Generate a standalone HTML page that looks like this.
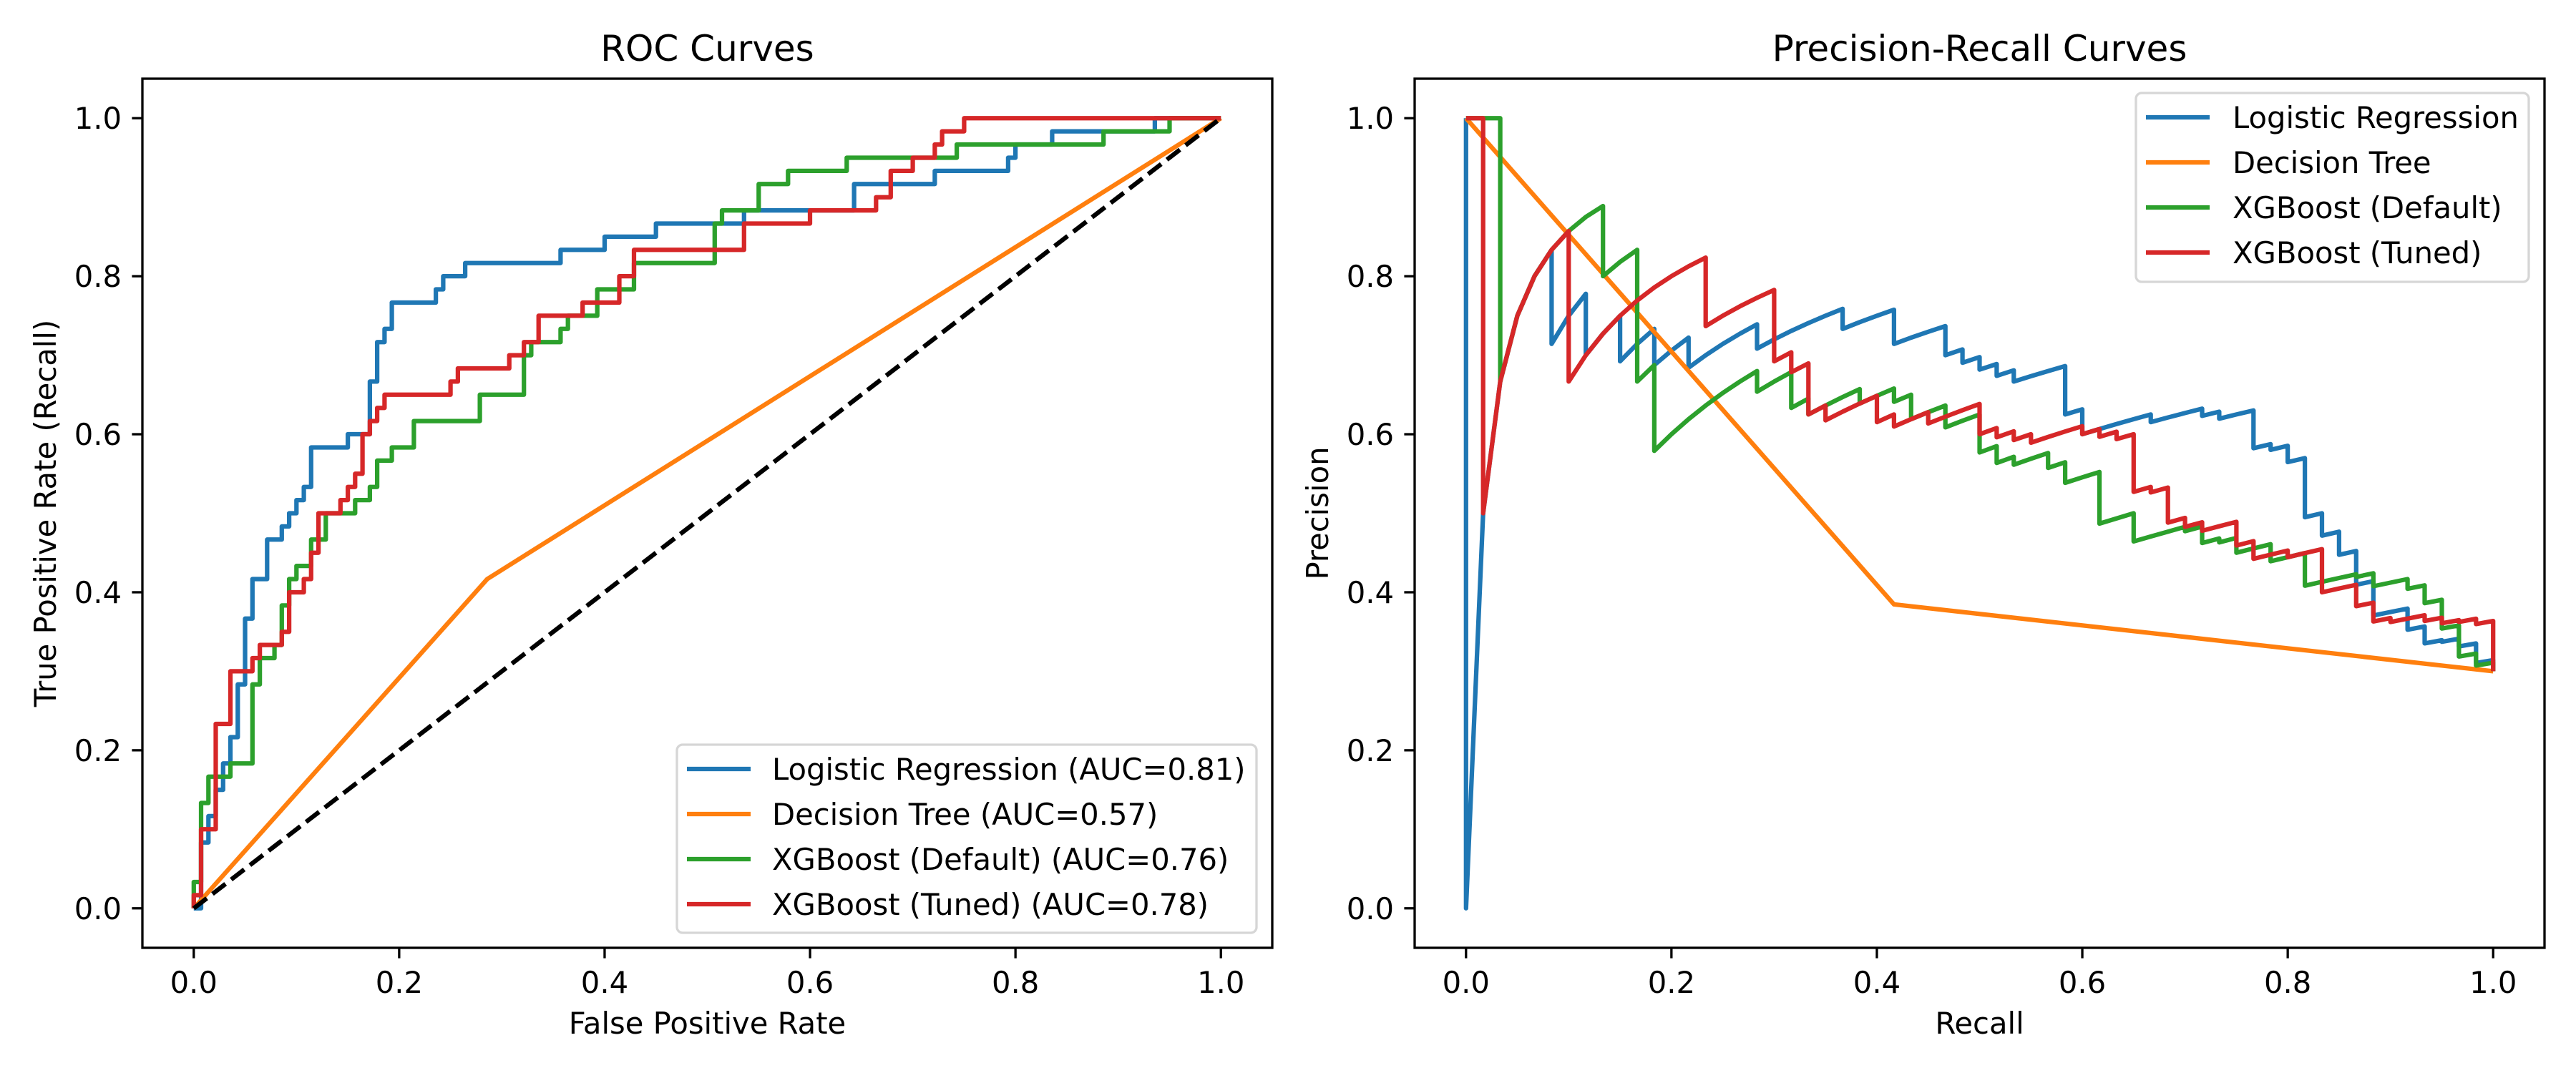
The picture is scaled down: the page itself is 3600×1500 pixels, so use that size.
<!DOCTYPE html>
<html><head><meta charset="utf-8"><style>
html,body{margin:0;padding:0;background:#fff;}
svg{display:block;font-family:"DejaVu Sans","Liberation Sans",sans-serif;}
</style></head>
<body>
<svg id="fig" width="3600" height="1500" viewBox="0 0 3600 1500" xmlns="http://www.w3.org/2000/svg">
<rect width="3600" height="1500" fill="#fff"/>
</svg>
<script>
// ---- data: ROC step vertices as counts (vertical step at FP to TP) ----
const N_POS = 60;
const N_NEG = 140;
const modelNames = ["Logistic Regression", "Decision Tree", "XGBoost (Default)", "XGBoost (Tuned)"];
const aucLabels = ["0.81", "0.57", "0.76", "0.78"];
const lrStepFP = [1,2,3,4,5,6,7,8,10,12,13,14,15,16,21,24,25,26,27,33,34,37,50,56,63,75,90,101,111,112,117,131,140];
const lrStepTP = [5,7,9,11,13,17,22,25,28,29,30,31,32,35,36,40,43,44,46,47,48,49,50,51,52,53,55,56,57,58,59,60,60];
const dtFP = [0,40,140];
const dtTP = [0,25,60];
const xgdStepFP = [0,1,2,5,8,9,11,12,13,14,16,18,22,24,25,27,30,39,45,46,50,51,55,60,71,72,77,81,89,104,124,133,140];
const xgdStepTP = [2,8,10,11,17,19,20,23,25,26,28,30,31,32,34,35,37,39,42,43,44,45,47,49,52,53,55,56,57,58,59,60,60];
const xgtStepFP = [0,1,3,5,8,9,12,13,15,16,17,20,21,22,23,24,25,26,35,36,43,45,47,53,58,60,75,84,93,95,98,101,102,105,140];
const xgtStepTP = [1,6,14,18,19,20,21,24,25,27,30,31,32,33,36,37,38,39,40,41,42,43,45,46,48,50,52,53,54,56,57,58,59,60,60];
const xTicks = [0, 0.2, 0.4, 0.6, 0.8, 1.0];
const yTicks = [0, 0.2, 0.4, 0.6, 0.8, 1.0];
const tickLabels = ["0.0", "0.2", "0.4", "0.6", "0.8", "1.0"];

const colors = ["#1f77b4", "#ff7f0e", "#2ca02c", "#d62728"];
const NS = "http://www.w3.org/2000/svg";
const svg = document.getElementById('fig');
function mk(tag, attrs, parent) {
  const e = document.createElementNS(NS, tag);
  for (const k in attrs) e.setAttribute(k, attrs[k]);
  (parent || svg).appendChild(e);
  return e;
}

// axes geometry
const axes = [
  {x0: 199, x1: 1778},
  {x0: 1977, x1: 3556}
];
const yTop = 110, yBot = 1325;
function sx(ax, v) { const a = axes[ax]; return a.x0 + (v + 0.05) / 1.1 * (a.x1 - a.x0); }
function sy(v) { return yBot - (v + 0.05) / 1.1 * (yBot - yTop); }

// build vertex paths (counts)
function stepPath(fps, tps) {
  const pts = [[0, 0]];
  let tp = 0;
  for (let i = 0; i < fps.length; i++) {
    pts.push([fps[i], tp]);
    pts.push([fps[i], tps[i]]);
    tp = tps[i];
  }
  return pts;
}
function directPath(fps, tps) { return fps.map((f, i) => [f, tps[i]]); }
const paths = [
  stepPath(lrStepFP, lrStepTP),
  directPath(dtFP, dtTP),
  stepPath(xgdStepFP, xgdStepTP),
  stepPath(xgtStepFP, xgtStepTP)
];
function prPoints(path, unitWalk) {
  const out = [[0, 1]];
  const push = (fp, tp) => { if (fp + tp > 0) out.push([tp / N_POS, tp / (tp + fp)]); };
  if (!unitWalk) { path.forEach(p => push(p[0], p[1])); return out; }
  for (let i = 1; i < path.length; i++) {
    let [f, t] = path[i - 1];
    const [f2, t2] = path[i];
    if (i === 1) push(f, t);
    while (f < f2 || t < t2) {
      if (f < f2) f++; else t++;
      push(f, t);
    }
  }
  return out;
}

function drawAxes(ax, title, xlab, ylab, key) {
  const a = axes[ax];
  const g = mk('g', {});
  
  
  xTicks.forEach((v, i) => {
    const x = sx(ax, v);
    const t = mk('line', {x1: x, x2: x, y1: yBot, y2: yBot + 14.6, stroke: '#000', 'stroke-width': 3.3}, g);
    
    
    const l = mk('text', {x: x, y: 1388, 'font-size': 41.7, 'text-anchor': 'middle', fill: '#000'}, g);
    l.textContent = tickLabels[i];
    
    
  });
  yTicks.forEach((v, i) => {
    const y = sy(v);
    const t = mk('line', {x1: a.x0 - 14.6, x2: a.x0, y1: y, y2: y, stroke: '#000', 'stroke-width': 3.3}, g);
    
    
    const l = mk('text', {x: a.x0 - 29, y: y + 15, 'font-size': 41.7, 'text-anchor': 'end', fill: '#000'}, g);
    l.textContent = tickLabels[i];
    
    
  });
  const tt = mk('text', {x: (a.x0 + a.x1) / 2, y: 85, 'font-size': 50, 'text-anchor': 'middle', fill: '#000'}, g);
  tt.textContent = title;
  
  
  const xl = mk('text', {x: (a.x0 + a.x1) / 2, y: 1445, 'font-size': 41.7, 'text-anchor': 'middle', fill: '#000'}, g);
  xl.textContent = xlab;
  
  
  const cy = (yTop + yBot) / 2, cx = a.x0 - 121;
  const yl = mk('text', {x: cx, y: cy, 'font-size': 41.7, 'text-anchor': 'middle', fill: '#000', transform: 'rotate(-90 ' + cx + ' ' + cy + ')'}, g);
  yl.textContent = ylab;
  
  
}

function poly(ax, pts, color, name, dash) {
  const d = pts.map(p => sx(ax, p[0]).toFixed(1) + ',' + sy(p[1]).toFixed(1)).join(' ');
  const attrs = {points: d, fill: 'none', stroke: color, 'stroke-width': 6.25, 'stroke-linejoin': 'round', 'stroke-linecap': 'butt'};
  if (dash) attrs['stroke-dasharray'] = dash;
  const e = mk('polyline', attrs);
  
  
}

drawAxes(0, 'ROC Curves', 'False Positive Rate', 'True Positive Rate (Recall)', 'roc');
drawAxes(1, 'Precision-Recall Curves', 'Recall', 'Precision', 'pr');

const lineKeys = ['logistic-regression', 'decision-tree', 'xgboost-default', 'xgboost-tuned'];
paths.forEach((p, i) => {
  poly(0, p.map(q => [q[0] / N_NEG, q[1] / N_POS]), colors[i], 'roc-line-' + lineKeys[i]);
});
poly(0, [[0, 0], [1, 1]], '#000', 'roc-chance-line', '23,10');
paths.forEach((p, i) => {
  poly(1, prPoints(p, i !== 1), colors[i], 'pr-line-' + lineKeys[i]);
});

// spines
axes.forEach((a, i) => {
  const r = mk('rect', {x: a.x0, y: yTop, width: a.x1 - a.x0, height: yBot - yTop, fill: 'none', stroke: '#000', 'stroke-width': 3.3});
  
  
});

// legends
function legend(key, bx, by, bw, bh, hx, tx, rowY0, labels) {
  const g = mk('g', {});
  
  
  mk('rect', {x: bx, y: by, width: bw, height: bh, rx: 8, fill: '#fff', 'fill-opacity': 0.8, stroke: '#d6d6d6', 'stroke-width': 3.3}, g);
  labels.forEach((lab, i) => {
    const y = rowY0 + i * 63;
    const ln = mk('line', {x1: hx, x2: hx + 89, y1: y, y2: y, stroke: colors[i], 'stroke-width': 6.25}, g);
    
    
    const t = mk('text', {x: tx, y: y + 15, 'font-size': 41.7, fill: '#000'}, g);
    t.textContent = lab;
    
    
  });
}
legend('roc', 946, 1041, 810, 263, 960, 1079, 1075, modelNames.map((n, i) => n + ' (AUC=' + aucLabels[i] + ')'));
legend('pr', 2985, 130, 549, 264, 2999, 3120, 164, modelNames);
</script>
</body></html>
